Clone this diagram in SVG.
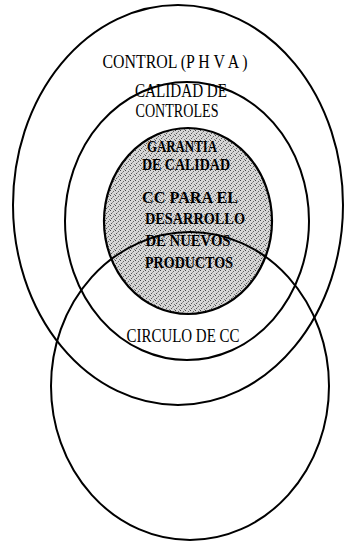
<svg xmlns="http://www.w3.org/2000/svg" width="345" height="541" viewBox="0 0 345 541">
<defs>
<pattern id="stip" width="5" height="5" patternUnits="userSpaceOnUse">
<rect width="5" height="5" fill="#d6d6d6"/>
<rect x="0" y="0" width="1" height="1" fill="#444"/>
<rect x="3" y="1" width="1" height="1" fill="#666"/>
<rect x="1" y="3" width="1" height="1" fill="#555"/>
<rect x="4" y="4" width="1" height="1" fill="#777"/>
<rect x="2" y="2" width="1" height="1" fill="#999"/>
</pattern>
</defs>
<style>
.ring{fill:none;stroke:#000;stroke-width:2}
.shade{fill:url(#stip);stroke:#000;stroke-width:2.2}
.t{font-family:"Liberation Serif","Times New Roman",serif;font-size:18px;fill:#000;text-anchor:middle}
.b{font-weight:bold;font-size:17px}
</style>
<rect width="345" height="541" fill="#fff"/>
<g id="control">
<ellipse class="ring" cx="178" cy="205" rx="165" ry="200"/>
<text class="t" x="175" y="68" textLength="145" lengthAdjust="spacingAndGlyphs">CONTROL (P H V A )</text>
</g>
<g id="calidad-controles">
<ellipse class="ring" cx="187" cy="221" rx="122" ry="139"/>
<text class="t" x="181" y="97" textLength="92" lengthAdjust="spacingAndGlyphs">CALIDAD DE</text>
<text class="t" x="177" y="117" textLength="83" lengthAdjust="spacingAndGlyphs">CONTROLES</text>
</g>
<g id="garantia">
<ellipse class="shade" cx="188" cy="221" rx="84" ry="93"/>
</g>
<g id="circulo-cc">
<ellipse class="ring" cx="190" cy="386" rx="139" ry="154"/>
<text class="t" x="183" y="342" textLength="113" lengthAdjust="spacingAndGlyphs">CIRCULO DE CC</text>
</g>
<g id="garantia-text">
<text class="t b" x="182" y="152" textLength="70" lengthAdjust="spacingAndGlyphs">GARANTIA</text>
<text class="t b" x="186" y="170" textLength="88" lengthAdjust="spacingAndGlyphs">DE CALIDAD</text>
<text class="t b" x="190" y="203" textLength="96" lengthAdjust="spacingAndGlyphs">CC PARA EL</text>
<text class="t b" x="195" y="224" textLength="100" lengthAdjust="spacingAndGlyphs">DESARROLLO</text>
<text class="t b" x="188" y="246" textLength="85" lengthAdjust="spacingAndGlyphs">DE NUEVOS</text>
<text class="t b" x="189" y="268" textLength="88" lengthAdjust="spacingAndGlyphs">PRODUCTOS</text>
</g>
<g id="connectors"/>
</svg>
